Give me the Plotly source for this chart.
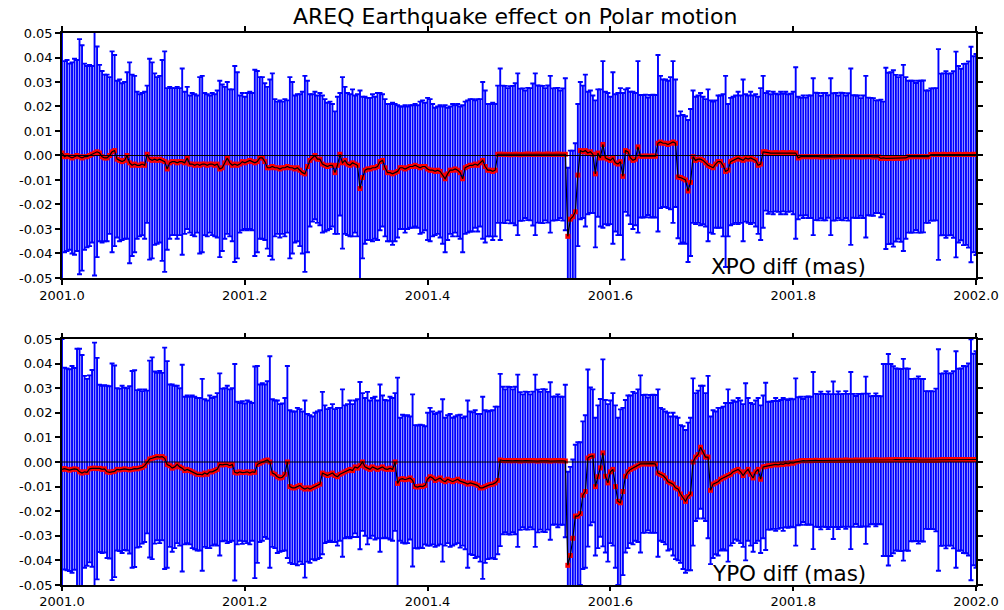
import numpy as np
import plotly.graph_objects as go

# Daily polar-motion differences (mas) for 2001, one value per day (day 0 .. 365)
xpo_diff = [
    0.001, -0.0005, 0.0, -0.0005, -0.001, -0.0005, 0.0, -0.0005, -0.001, -0.0005,
    -0.0005, 0.0, 0.0005, 0.001, 0.0015, 0.001, -0.0005, -0.001, -0.001, 0.0,
    0.0015, 0.002, -0.0015, -0.002, -0.0025, -0.002, 0.0, -0.003, -0.004, -0.0035,
    -0.004, -0.004, -0.0035, -0.004, 0.0005, -0.0015, -0.002, -0.0015, -0.002, -0.0015,
    -0.002, -0.0025, -0.0055, -0.003, -0.0025, -0.0025, -0.003, -0.0025, -0.0025, -0.003,
    -0.001, -0.0035, -0.0035, -0.004, -0.0035, -0.004, -0.0035, -0.0035, -0.004, -0.0035,
    -0.0035, -0.004, -0.0035, -0.0055, -0.005, -0.003, -0.001, -0.003, -0.004, -0.0035,
    -0.004, -0.0035, -0.0025, -0.003, -0.0025, -0.002, -0.0025, -0.003, -0.0025, -0.001,
    -0.001, -0.0025, -0.005, -0.005, -0.0045, -0.005, -0.005, -0.0055, -0.005, -0.005,
    -0.0045, -0.005, -0.005, -0.0055, -0.005, -0.006, -0.007, -0.0075, -0.0045, -0.002,
    -0.001, 0.0, -0.0015, -0.0015, -0.0035, -0.004, -0.0045, -0.004, -0.004, -0.007,
    -0.004, 0.0005, -0.003, -0.002, -0.0035, -0.004, -0.003, -0.0035, -0.004, -0.0135,
    -0.009, -0.006, -0.0055, -0.0055, -0.005, -0.005, -0.0045, -0.0025, -0.002, -0.005,
    -0.007, -0.007, -0.0075, -0.007, -0.0065, -0.005, -0.005, -0.0055, -0.005, -0.0045,
    -0.0045, -0.004, -0.0045, -0.005, -0.0045, -0.0045, -0.0055, -0.006, -0.006, -0.0065,
    -0.006, -0.0065, -0.008, -0.0095, -0.0075, -0.006, -0.006, -0.0055, -0.006, -0.007,
    -0.0095, -0.005, -0.0045, -0.004, -0.004, -0.0035, -0.004, -0.003, -0.002, -0.0045,
    -0.006, -0.006, -0.0065, -0.006, 0.0005, 0.0005, 0.0005, 0.0004, 0.0005, 0.0003,
    0.0004, 0.0005, 0.0005, 0.0003, 0.0004, 0.0005, 0.0006, 0.0005, 0.0004, 0.0005,
    0.0006, 0.0005, 0.0004, 0.0005, 0.0006, 0.0005, 0.0004, 0.0005, 0.0006, 0.0005,
    0.0004, 0.0005, -0.033, -0.026, -0.025, -0.023, -0.008, 0.002, 0.0015, 0.002,
    0.001, 0.0015, 0.0005, -0.0075, 0.001, -0.001, 0.0045, -0.001, -0.0015, -0.002,
    -0.001, -0.003, -0.0035, -0.0025, -0.0085, 0.002, 0.0015, -0.001, -0.002, -0.0015,
    0.0035, -0.0003, -0.0003, -0.0002, -0.0003, -0.0003, -0.0002, -0.0003, 0.005, 0.0055,
    0.005, 0.005, 0.0045, 0.005, 0.0055, 0.005, -0.0088, -0.009, -0.0095, -0.01,
    -0.0145, -0.011, -0.0005, -0.002, -0.0015, -0.0015, -0.002, -0.003, -0.004, -0.0045,
    -0.005, -0.0035, -0.0025, -0.0025, -0.004, -0.0065, -0.006, -0.0025, -0.002, -0.0015,
    -0.001, -0.0015, -0.002, -0.001, -0.0015, -0.001, -0.0015, -0.002, -0.004, -0.0035,
    0.0015, 0.0015, 0.0012, 0.001, 0.001, 0.0012, 0.001, 0.001, 0.0012, 0.001,
    0.001, 0.0012, 0.001, 0.001, -0.001, -0.0005, -0.0005, -0.0004, -0.0005, -0.0005,
    -0.0005, -0.0004, -0.0005, -0.0006, -0.0005, -0.0005, -0.0004, -0.0005, -0.0006, -0.0005,
    -0.0005, -0.0004, -0.0005, -0.0005, -0.0006, -0.0005, -0.0004, -0.0005, -0.0005, -0.0006,
    -0.0005, -0.0005, -0.0004, -0.0005, -0.0006, -0.0005, -0.0005, -0.0012, -0.001, -0.0012,
    -0.0012, -0.001, -0.0012, -0.0011, -0.001, -0.0012, -0.001, -0.001, -0.0005, -0.0005,
    -0.0005, -0.0004, -0.0005, -0.0005, -0.0004, -0.0005, -0.0005, 0.0004, 0.0004, 0.0005,
    0.0004, 0.0004, 0.0005, 0.0004, 0.0004, 0.0005, 0.0004, 0.0004, 0.0005, 0.0004,
    0.0004, 0.0005, 0.0004, 0.0004, 0.0005, 0.0004,
]

xpo_sigma = [
    0.052, 0.039, 0.039, 0.038, 0.039, 0.040, 0.039, 0.048, 0.046, 0.038,
    0.037, 0.037, 0.036, 0.050, 0.043, 0.036, 0.035, 0.034, 0.034, 0.032,
    0.041, 0.039, 0.032, 0.033, 0.032, 0.032, 0.034, 0.041, 0.037, 0.036,
    0.030, 0.029, 0.029, 0.030, 0.028, 0.041, 0.040, 0.035, 0.034, 0.034,
    0.041, 0.045, 0.033, 0.031, 0.030, 0.030, 0.031, 0.030, 0.038, 0.029,
    0.029, 0.028, 0.029, 0.029, 0.028, 0.036, 0.036, 0.029, 0.029, 0.028,
    0.029, 0.029, 0.030, 0.036, 0.034, 0.031, 0.031, 0.030, 0.031, 0.040,
    0.038, 0.028, 0.028, 0.027, 0.028, 0.028, 0.028, 0.038, 0.037, 0.033,
    0.033, 0.032, 0.033, 0.036, 0.038, 0.028, 0.027, 0.028, 0.027, 0.028,
    0.027, 0.037, 0.035, 0.030, 0.030, 0.031, 0.033, 0.040, 0.035, 0.027,
    0.026, 0.026, 0.026, 0.027, 0.028, 0.027, 0.026, 0.026, 0.025, 0.025,
    0.028, 0.025, 0.035, 0.030, 0.029, 0.029, 0.030, 0.028, 0.029, 0.040,
    0.033, 0.030, 0.029, 0.029, 0.030, 0.029, 0.030, 0.028, 0.027, 0.028,
    0.028, 0.028, 0.029, 0.028, 0.027, 0.025, 0.025, 0.026, 0.025, 0.025,
    0.025, 0.025, 0.025, 0.027, 0.027, 0.026, 0.029, 0.029, 0.027, 0.026,
    0.026, 0.027, 0.028, 0.030, 0.027, 0.026, 0.027, 0.026, 0.027, 0.027,
    0.030, 0.027, 0.027, 0.027, 0.027, 0.026, 0.027, 0.026, 0.032, 0.031,
    0.027, 0.027, 0.028, 0.027, 0.028, 0.035, 0.028, 0.028, 0.027, 0.028,
    0.028, 0.029, 0.033, 0.027, 0.027, 0.026, 0.027, 0.027, 0.029, 0.033,
    0.028, 0.028, 0.028, 0.027, 0.028, 0.032, 0.027, 0.027, 0.027, 0.026,
    0.027, 0.031, 0.028, 0.028, 0.027, 0.028, 0.029, 0.028, 0.027, 0.031,
    0.025, 0.025, 0.024, 0.030, 0.026, 0.028, 0.034, 0.027, 0.027, 0.026,
    0.035, 0.028, 0.029, 0.030, 0.034, 0.025, 0.026, 0.027, 0.028, 0.027,
    0.035, 0.025, 0.025, 0.025, 0.024, 0.025, 0.025, 0.025, 0.036, 0.027,
    0.026, 0.026, 0.026, 0.027, 0.033, 0.026, 0.025, 0.027, 0.026, 0.026,
    0.029, 0.030, 0.027, 0.026, 0.026, 0.027, 0.026, 0.026, 0.031, 0.027,
    0.027, 0.026, 0.027, 0.027, 0.029, 0.039, 0.027, 0.026, 0.026, 0.026,
    0.027, 0.026, 0.033, 0.026, 0.026, 0.027, 0.026, 0.027, 0.028, 0.031,
    0.031, 0.024, 0.025, 0.024, 0.025, 0.024, 0.024, 0.025, 0.024, 0.025,
    0.024, 0.024, 0.025, 0.035, 0.025, 0.024, 0.025, 0.024, 0.025, 0.025,
    0.032, 0.026, 0.026, 0.025, 0.026, 0.026, 0.025, 0.032, 0.026, 0.026,
    0.025, 0.026, 0.026, 0.025, 0.026, 0.036, 0.025, 0.025, 0.025, 0.024,
    0.025, 0.033, 0.024, 0.024, 0.024, 0.023, 0.023, 0.024, 0.023, 0.037,
    0.035, 0.035, 0.036, 0.034, 0.033, 0.034, 0.038, 0.033, 0.031, 0.031,
    0.031, 0.030, 0.031, 0.031, 0.031, 0.027, 0.027, 0.027, 0.027, 0.027,
    0.043, 0.033, 0.033, 0.034, 0.033, 0.033, 0.034, 0.042, 0.036, 0.035,
    0.037, 0.037, 0.038, 0.044, 0.040, 0.041,
]

ypo_diff = [
    -0.003, -0.0027, -0.003, -0.0033, -0.003, -0.0028, -0.003, -0.004, -0.0045, -0.004,
    -0.0042, -0.0028, -0.0026, -0.0025, -0.0027, -0.0026, -0.003, -0.0028, -0.004, -0.0042,
    -0.004, -0.0038, -0.003, -0.0032, -0.003, -0.0028, -0.003, -0.0032, -0.003, -0.0027,
    -0.0028, -0.0025, -0.0022, -0.0015, 0.0, 0.0012, 0.0015, 0.0018, 0.0022, 0.002,
    0.0022, 0.0015, -0.001, -0.0015, -0.0025, -0.002, -0.001, -0.002, -0.0025, -0.0035,
    -0.003, -0.0035, -0.004, -0.0045, -0.005, -0.005, -0.0052, -0.0045, -0.005, -0.004,
    -0.004, -0.0035, -0.003, -0.001, -0.0012, -0.001, -0.001, -0.0015, -0.001, -0.0042,
    -0.0045, -0.004, -0.0043, -0.0042, -0.004, -0.0045, -0.004, -0.0042, -0.001, -0.0005,
    0.0, 0.0005, 0.0008, 0.0, -0.0045, -0.005, -0.006, -0.0065, -0.0062, -0.005,
    0.0, -0.01, -0.0105, -0.0105, -0.01, -0.0095, -0.0105, -0.011, -0.0105, -0.011,
    -0.0105, -0.01, -0.0095, -0.009, -0.0045, -0.005, -0.0055, -0.005, -0.0045, -0.0055,
    -0.006, -0.005, -0.0045, -0.004, -0.0035, -0.003, -0.0035, -0.002, -0.0025, -0.0015,
    0.0, -0.002, -0.0025, -0.003, -0.002, -0.0025, -0.003, -0.0025, -0.002, -0.0028,
    -0.003, -0.0025, -0.003, 0.0, -0.0087, -0.007, -0.0068, -0.0072, -0.007, -0.0065,
    -0.0075, -0.01, -0.0102, -0.0098, -0.01, -0.0095, -0.007, -0.006, -0.0065, -0.0075,
    -0.007, -0.0065, -0.0075, -0.008, -0.007, -0.0075, -0.008, -0.0075, -0.007, -0.0078,
    -0.008, -0.0085, -0.009, -0.0085, -0.0088, -0.009, -0.0095, -0.0105, -0.0105, -0.01,
    -0.0095, -0.0092, -0.009, -0.0085, -0.0075, 0.0008, 0.0006, 0.0005, 0.0006, 0.0005,
    0.0005, 0.0006, 0.0005, 0.0004, 0.0005, 0.0006, 0.0005, 0.0005, 0.0006, 0.0005,
    0.0004, 0.0005, 0.0006, 0.0005, 0.0005, 0.0004, 0.0005, 0.0006, 0.0005, 0.0005,
    0.0005, 0.0004, -0.042, -0.038, -0.031, -0.022, -0.022, -0.021, -0.0135, -0.012,
    0.0016, 0.0023, 0.0025, -0.01, -0.006, -0.0024, 0.0037, -0.0058, -0.0085, -0.004,
    -0.003, -0.01, -0.016, -0.0166, -0.012, -0.0058, -0.004, -0.003, -0.0025, -0.002,
    -0.0015, -0.0008, -0.0008, -0.0007, -0.0008, -0.0008, -0.0007, -0.0008, -0.0045, -0.005,
    -0.0055, -0.0065, -0.008, -0.0085, -0.009, -0.0105, -0.011, -0.013, -0.0145, -0.016,
    -0.014, -0.013, 0.0, 0.002, 0.003, 0.006, 0.004, 0.002, 0.002, -0.0115,
    -0.009, -0.0085, -0.008, -0.007, -0.0065, -0.006, -0.0055, -0.005, -0.004, -0.0035,
    -0.003, -0.004, -0.0055, -0.004, -0.003, -0.005, -0.0065, -0.004, -0.003, -0.007,
    -0.002, -0.0018, -0.0015, -0.0015, -0.0012, -0.001, -0.0012, -0.0008, -0.001, -0.0005,
    -0.0008, -0.0003, -0.0005, 0.0, 0.0003, 0.0005, 0.0006, 0.0005, 0.0006, 0.0005,
    0.0006, 0.0007, 0.0006, 0.0006, 0.0007, 0.0006, 0.0007, 0.0006, 0.0007, 0.0006,
    0.0007, 0.0006, 0.0007, 0.0008, 0.0007, 0.0006, 0.0007, 0.0008, 0.0007, 0.0007,
    0.0008, 0.0007, 0.0008, 0.0007, 0.0008, 0.0009, 0.0008, 0.0007, 0.0008, 0.0008,
    0.0009, 0.0008, 0.0009, 0.001, 0.0009, 0.0008, 0.0009, 0.001, 0.0009, 0.0008,
    0.0008, 0.0009, 0.0008, 0.0008, 0.0007, 0.0008, 0.0007, 0.0008, 0.0007, 0.0008,
    0.0008, 0.0009, 0.001, 0.0009, 0.001, 0.001, 0.0009, 0.001, 0.0009, 0.001,
    0.001, 0.0009, 0.001, 0.0009, 0.001, 0.001,
]

ypo_sigma = [
    0.053, 0.041, 0.041, 0.041, 0.042, 0.041, 0.049, 0.050, 0.048, 0.039,
    0.038, 0.038, 0.040, 0.051, 0.045, 0.034, 0.034, 0.034, 0.035, 0.035,
    0.044, 0.043, 0.033, 0.033, 0.034, 0.033, 0.033, 0.034, 0.040, 0.040,
    0.032, 0.032, 0.031, 0.031, 0.029, 0.040, 0.041, 0.035, 0.034, 0.035,
    0.034, 0.045, 0.042, 0.033, 0.034, 0.033, 0.032, 0.032, 0.042, 0.030,
    0.030, 0.030, 0.031, 0.031, 0.031, 0.031, 0.039, 0.030, 0.030, 0.031,
    0.030, 0.030, 0.031, 0.037, 0.031, 0.031, 0.032, 0.031, 0.031, 0.044,
    0.029, 0.028, 0.029, 0.028, 0.029, 0.029, 0.028, 0.043, 0.040, 0.032,
    0.032, 0.031, 0.032, 0.043, 0.030, 0.030, 0.031, 0.030, 0.030, 0.031,
    0.039, 0.031, 0.031, 0.031, 0.032, 0.031, 0.031, 0.036, 0.030, 0.030,
    0.029, 0.030, 0.030, 0.030, 0.033, 0.028, 0.027, 0.027, 0.028, 0.027,
    0.028, 0.027, 0.034, 0.027, 0.027, 0.028, 0.027, 0.027, 0.028, 0.034,
    0.028, 0.028, 0.031, 0.028, 0.028, 0.029, 0.028, 0.034, 0.029, 0.028,
    0.028, 0.029, 0.029, 0.028, 0.043, 0.025, 0.026, 0.026, 0.026, 0.025,
    0.035, 0.025, 0.025, 0.025, 0.025, 0.024, 0.027, 0.028, 0.027, 0.027,
    0.027, 0.027, 0.033, 0.026, 0.026, 0.027, 0.026, 0.026, 0.026, 0.027,
    0.026, 0.027, 0.034, 0.029, 0.029, 0.030, 0.029, 0.030, 0.037, 0.031,
    0.030, 0.030, 0.030, 0.031, 0.030, 0.035, 0.030, 0.029, 0.030, 0.030,
    0.029, 0.030, 0.035, 0.028, 0.027, 0.028, 0.028, 0.027, 0.028, 0.035,
    0.029, 0.028, 0.029, 0.029, 0.028, 0.032, 0.026, 0.026, 0.027, 0.026,
    0.026, 0.031, 0.038, 0.036, 0.032, 0.029, 0.030, 0.029, 0.030, 0.031,
    0.036, 0.028, 0.027, 0.028, 0.029, 0.028, 0.038, 0.031, 0.032, 0.029,
    0.031, 0.033, 0.034, 0.038, 0.034, 0.031, 0.031, 0.030, 0.031, 0.030,
    0.031, 0.036, 0.028, 0.028, 0.027, 0.028, 0.028, 0.028, 0.034, 0.027,
    0.027, 0.027, 0.028, 0.027, 0.029, 0.029, 0.029, 0.028, 0.029, 0.029,
    0.030, 0.031, 0.034, 0.026, 0.026, 0.025, 0.027, 0.026, 0.033, 0.030,
    0.030, 0.029, 0.030, 0.029, 0.029, 0.030, 0.035, 0.029, 0.029, 0.028,
    0.029, 0.029, 0.029, 0.036, 0.029, 0.029, 0.030, 0.029, 0.029, 0.030,
    0.029, 0.034, 0.026, 0.026, 0.026, 0.027, 0.026, 0.026, 0.027, 0.026,
    0.026, 0.026, 0.026, 0.034, 0.026, 0.026, 0.025, 0.026, 0.026, 0.026,
    0.036, 0.027, 0.027, 0.028, 0.027, 0.027, 0.028, 0.027, 0.032, 0.027,
    0.028, 0.027, 0.027, 0.028, 0.027, 0.036, 0.027, 0.026, 0.027, 0.027,
    0.027, 0.034, 0.027, 0.026, 0.026, 0.027, 0.026, 0.026, 0.039, 0.039,
    0.043, 0.039, 0.038, 0.037, 0.037, 0.037, 0.041, 0.037, 0.037, 0.033,
    0.033, 0.033, 0.034, 0.033, 0.033, 0.028, 0.028, 0.028, 0.028, 0.029,
    0.045, 0.035, 0.035, 0.036, 0.035, 0.035, 0.036, 0.044, 0.037, 0.037,
    0.038, 0.038, 0.039, 0.049, 0.043, 0.044,
]

x_tickvals = [2001.0, 2001.2, 2001.4, 2001.6, 2001.8, 2002.0]
x_ticktext = ["2001.0", "2001.2", "2001.4", "2001.6", "2001.8", "2002.0"]
y_tickvals = [0.05, 0.04, 0.03, 0.02, 0.01, 0.0, -0.01, -0.02, -0.03, -0.04, -0.05]
y_ticktext = ["0.05", "0.04", "0.03", "0.02", "0.01", "0.00",
              "-0.01", "-0.02", "-0.03", "-0.04", "-0.05"]

title_text = "AREQ Earthquake effect on Polar motion"
panel_labels = ["XPO diff (mas)", "YPO diff (mas)"]

assert len(xpo_diff) == len(xpo_sigma) == len(ypo_diff) == len(ypo_sigma)
n_days = len(xpo_diff)
epoch = 2001.0 + np.arange(n_days) / 365.0

FONT = "DejaVu Sans, Verdana, sans-serif"

fig = go.Figure()
panels = [
    (xpo_diff, xpo_sigma, "x", "y"),
    (ypo_diff, ypo_sigma, "x2", "y2"),
]
for diff, sigma, xa, ya in panels:
    # formal error bars
    fig.add_trace(go.Scatter(
        x=epoch, y=diff, xaxis=xa, yaxis=ya, mode="markers",
        marker=dict(size=1, color="rgba(0,0,0,0)"),
        error_y=dict(type="data", array=sigma, symmetric=True,
                     color="#0000ff", thickness=1.9, width=2.5),
        showlegend=False, hoverinfo="skip",
    ))
    # daily differences
    fig.add_trace(go.Scatter(
        x=epoch, y=diff, xaxis=xa, yaxis=ya, mode="markers",
        marker=dict(symbol="square", size=5, color="#ff0000", line=dict(width=0)),
        showlegend=False,
    ))
    fig.add_trace(go.Scatter(
        x=epoch, y=diff, xaxis=xa, yaxis=ya, mode="lines",
        line=dict(color="#000000", width=1.2),
        showlegend=False,
    ))

axis_common = dict(
    showline=True, linecolor="black", linewidth=1.5, mirror="ticks",
    ticks="outside", ticklen=5, tickwidth=1.5, tickcolor="black",
    showgrid=False, zeroline=False, automargin=False,
)
xaxis_common = dict(axis_common, range=[2001.0, 2002.0],
                    tickmode="array", tickvals=x_tickvals, ticktext=x_ticktext,
                    tickfont=dict(family=FONT, size=13, color="black"))
yaxis_common = dict(axis_common, range=[-0.05, 0.05],
                    tickmode="array", tickvals=y_tickvals, ticktext=y_ticktext,
                    tickfont=dict(family=FONT, size=13, color="black"))

fig.update_layout(
    width=1004, height=610,
    margin=dict(l=62, r=28, t=33, b=25),
    paper_bgcolor="white", plot_bgcolor="white",
    xaxis=dict(xaxis_common, domain=[0, 1], anchor="y"),
    yaxis=dict(yaxis_common, domain=[0.5562, 1.0], anchor="x"),
    xaxis2=dict(xaxis_common, domain=[0, 1], anchor="y2", ticklen=4),
    yaxis2=dict(yaxis_common, domain=[0.0, 0.4457], anchor="x2"),
    font=dict(family=FONT, color="black"),
)

# zero reference lines
for xa, ya in [("x", "y"), ("x2", "y2")]:
    fig.add_shape(type="line", xref=f"{xa} domain", yref=ya,
                  x0=0, x1=1, y0=0, y1=0, layer="above",
                  line=dict(color="black", width=1.2))

fig.add_annotation(text=title_text, xref="paper", yref="paper",
                   x=0.4956, y=1.029, xanchor="center", yanchor="middle",
                   showarrow=False, font=dict(family=FONT, size=22, color="black"))

for label, xa, ya in [(panel_labels[0], "x", "y"), (panel_labels[1], "x2", "y2")]:
    fig.add_annotation(text=label, xref=xa, yref=ya, x=2001.795, y=-0.0455,
                       xanchor="center", yanchor="middle", showarrow=False,
                       font=dict(family=FONT, size=21.5, color="black"))

fig.write_html("out.html")
